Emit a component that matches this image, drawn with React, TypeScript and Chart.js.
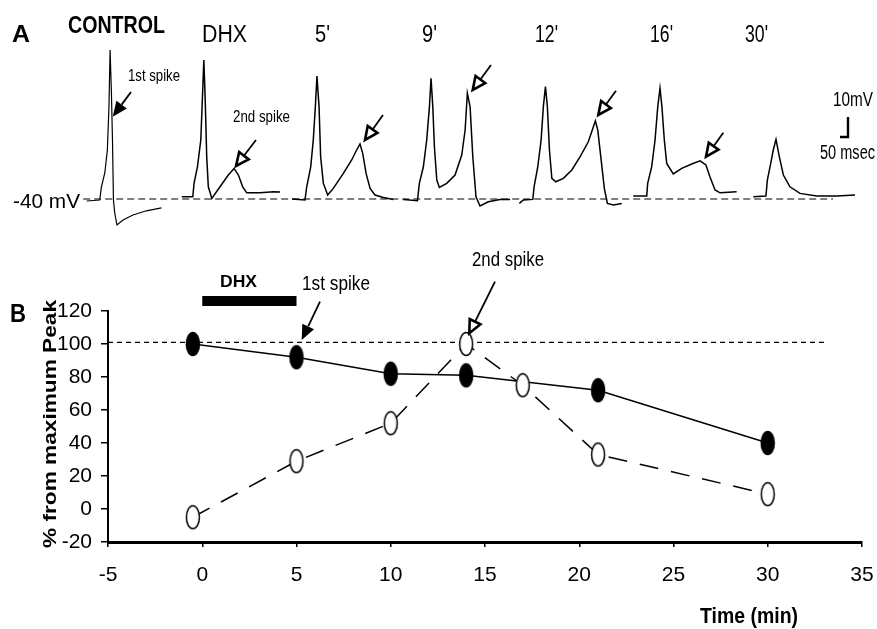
import React, { useEffect, useRef } from "react";
import { Chart, registerables } from "chart.js";

Chart.register(...registerables);

// ---------- Panel B data ----------
const timeFirstSpike = [-0.5, 5, 10, 14, 21, 30];
const firstSpikePct = [100, 92, 82, 81, 72, 40];
const timeSecondSpike = [-0.5, 5, 10, 14, 17, 21, 30];
const secondSpikePct = [-5, 29, 52, 100, 75, 33, 9];
const maxPeakRef = 101;
const refLineRange = [-5, 33];
const dhxOnMin = 0;
const dhxOffMin = 5;
const xTicks = [-5, 0, 5, 10, 15, 20, 25, 30, 35];
const yTicks = [-20, 0, 20, 40, 60, 80, 100, 120];

// ---------- Panel A traces (ms from sweep start, mV) ----------
const sweepLabels = ["CONTROL", "DHX", "5'", "9'", "12'", "16'", "30'"];
const sweepStartMs = [542, 1136, 1825, 2521, 3246, 3958, 4708];
const controlT = [0, 81, 92, 113, 129, 139, 146, 154, 161, 167, 175, 189, 227, 289, 373, 467];
const controlV = [-41, -40.5, -33.9, -27, -15.5, 6.2, 34.5, 14.5, -10.5, -40.5, -47, -53, -50.5, -48, -45.9, -44.4];
const dhxT = [0, 69, 77, 98, 119, 131, 138, 146, 156, 166, 188, 239, 291, 327, 354, 381, 406, 489, 573, 614];
const dhxV = [-38.9, -38.9, -32, -23.9, -10.5, 14.5, 29.5, 11.2, -18.9, -33.9, -39.7, -33.9, -28, -24.7, -28, -33.9, -36.9, -36.9, -36.4, -36.5];
const min5T = [0, 81, 92, 117, 133, 146, 156, 169, 179, 196, 223, 258, 321, 373, 404, 425, 442, 463, 488, 519, 571, 633];
const min5V = [-40, -40.5, -33.9, -23.9, -10.5, 6.2, 21.5, 6.2, -18.9, -32.2, -38, -34.7, -27.2, -20.5, -15.5, -12.5, -17.2, -27.2, -34.7, -38, -39.2, -40.2];
const min9T = [0, 88, 100, 125, 146, 163, 173, 184, 194, 209, 225, 271, 323, 365, 386, 400, 417, 434, 454, 479, 531, 604, 667];
const min9V = [-40.2, -40.9, -32.2, -23.9, -10.5, 6.2, 20.4, 6.2, -13.9, -30.5, -34.2, -32.2, -28, -18, -5.5, 12.9, 6.2, -18.9, -38.9, -43.5, -41.4, -40.2, -40.2];
const min12T = [0, 25, 84, 92, 115, 136, 150, 163, 175, 188, 203, 228, 275, 328, 379, 431, 459, 475, 490, 509, 531, 550, 588, 640];
const min12V = [-42.2, -40.5, -40.2, -33.9, -23.9, -10.5, 6.2, 16.2, 6.2, -15.5, -29.7, -31.4, -29.7, -25.5, -18.9, -11.4, -4.7, -0.9, -5.5, -18.9, -34.7, -42.2, -43, -42.2];
const min16T = [0, 84, 90, 115, 136, 153, 167, 179, 194, 209, 250, 303, 365, 417, 454, 479, 511, 542, 646];
const min16V = [-38.5, -38.5, -32.2, -23.9, -10.5, 6.2, 15.4, 6.2, -10.5, -22.2, -27.5, -24.7, -22.5, -20.9, -23, -28.9, -35.5, -36.9, -36.4];
const min30T = [0, 79, 88, 109, 125, 142, 163, 188, 229, 292, 396, 521, 636];
const min30V = [-38.9, -38.5, -30.5, -22.2, -15.5, -10.2, -18.9, -28, -33.9, -37.2, -38.5, -38.5, -38];
const traceTimes = [controlT, dhxT, min5T, min9T, min12T, min16T, min30T];
const traceVolts = [controlV, dhxV, min5V, min9V, min12V, min16V, min30V];
const restingMv = -40;
const baselineRangeMs = [520, 5206];
const scaleBarMv = 10;
const scaleBarMs = 50;

const SANS = "'Liberation Sans', Arial, sans-serif";
const NARROW = "'Liberation Sans Narrow', 'Arial Narrow', 'Liberation Sans', Arial, sans-serif";
const B_TOP = 240;

function fitText(ctx: CanvasRenderingContext2D, text: string, x: number, y: number, font: string, width: number) {
  ctx.save();
  ctx.font = font;
  ctx.fillStyle = "#000";
  ctx.textBaseline = "alphabetic";
  ctx.textAlign = "left";
  const w = ctx.measureText(text).width;
  ctx.translate(x, y);
  ctx.scale(width / w, 1);
  ctx.fillText(text, 0, 0);
  ctx.restore();
}

function arrow(ctx: CanvasRenderingContext2D, x1: number, y1: number, x2: number, y2: number, filled: boolean) {
  const headLen = filled ? 15 : 13;
  const headW = filled ? 13 : 12;
  const ang = Math.atan2(y2 - y1, x2 - x1);
  const bx = x2 - headLen * Math.cos(ang);
  const by = y2 - headLen * Math.sin(ang);
  ctx.save();
  ctx.strokeStyle = "#000";
  ctx.fillStyle = "#000";
  ctx.lineWidth = 1.8;
  ctx.beginPath();
  ctx.moveTo(x1, y1);
  ctx.lineTo(bx, by);
  ctx.stroke();
  const px = (-Math.sin(ang) * headW) / 2;
  const py = (Math.cos(ang) * headW) / 2;
  ctx.beginPath();
  ctx.moveTo(x2, y2);
  ctx.lineTo(bx + px, by + py);
  ctx.lineTo(bx - px, by - py);
  ctx.closePath();
  if (filled) {
    ctx.fill();
  } else {
    ctx.fillStyle = "#fff";
    ctx.fill();
    ctx.lineWidth = 2.6;
    ctx.lineJoin = "miter";
    ctx.stroke();
  }
  ctx.restore();
}

function ellipseImg(filled: boolean) {
  const c = document.createElement("canvas");
  c.width = 18;
  c.height = 28;
  const g = c.getContext("2d")!;
  g.beginPath();
  g.ellipse(9, 14, 6.5, 11.6, 0, 0, Math.PI * 2);
  g.fillStyle = filled ? "#000" : "#fff";
  g.fill();
  g.lineWidth = 1.5;
  g.strokeStyle = "#000";
  g.stroke();
  return c;
}

export default function App() {
  const refA = useRef<HTMLCanvasElement | null>(null);
  const refB = useRef<HTMLCanvasElement | null>(null);

  useEffect(() => {
    if (!refA.current || !refB.current) return;

    // ---------- Panel A ----------
    const traceSets = traceTimes.map((ts, i) => ({
      label: sweepLabels[i],
      data: ts.map((t, j) => ({ x: sweepStartMs[i] + t, y: traceVolts[i][j] })),
      borderColor: "#000",
      borderWidth: i === 0 ? 1.2 : 1.5,
      pointRadius: 0,
      showLine: true,
      tension: 0,
    }));
    const annotA = {
      id: "annotA",
      afterDraw(chart: any) {
        const ctx = chart.ctx as CanvasRenderingContext2D;
        fitText(ctx, "A", 12, 42, `bold 24px ${SANS}`, 18);
        const lab = [
          [68, 33, 97, true],
          [202, 42, 45, false],
          [315, 42, 15, false],
          [422, 42, 15, false],
          [535, 42, 23, false],
          [650, 42, 23, false],
          [745, 42, 23, false],
        ];
        sweepLabels.forEach((s, i) => {
          const [x, y, w, bold] = lab[i] as any;
          fitText(ctx, s, x, y, `${bold ? "bold " : ""}23px ${SANS}`, w);
        });
        fitText(ctx, "1st spike", 128, 81, `16px ${SANS}`, 52);
        fitText(ctx, "2nd spike", 233, 122, `16px ${SANS}`, 57);
        fitText(ctx, "-40 mV", 13, 208, `21px ${SANS}`, 67);
        fitText(ctx, "10mV", 833, 106, `20px ${SANS}`, 40);
        fitText(ctx, "50 msec", 820, 159, `20px ${SANS}`, 55);
        // arrows
        arrow(ctx, 131, 92, 112.7, 116.7, true);
        arrow(ctx, 256, 140, 236, 166, false);
        arrow(ctx, 383, 115, 365, 140, false);
        arrow(ctx, 491, 65, 472.7, 90, false);
        arrow(ctx, 616, 90.7, 598.3, 115, false);
        arrow(ctx, 723.3, 132.7, 706, 156.7, false);
        // scale bar
        const xs = chart.scales.x;
        const ys = chart.scales.y;
        const dy = ys.getPixelForValue(0) - ys.getPixelForValue(scaleBarMv);
        const dx = xs.getPixelForValue(scaleBarMs) - xs.getPixelForValue(0);
        const cx = 848, cy = 137;
        ctx.save();
        ctx.strokeStyle = "#000";
        ctx.lineWidth = 2.4;
        ctx.beginPath();
        ctx.moveTo(cx, cy - dy);
        ctx.lineTo(cx, cy);
        ctx.lineTo(cx - dx, cy);
        ctx.stroke();
        ctx.restore();
      },
    };
    const chartA = new Chart(refA.current, {
      type: "scatter",
      data: {
        datasets: [
          {
            label: "baseline",
            data: baselineRangeMs.map((t) => ({ x: t, y: restingMv })),
            borderColor: "#000",
            borderWidth: 1.2,
            borderDash: [7, 4],
            pointRadius: 0,
            showLine: true,
          } as any,
          ...traceSets,
        ],
      },
      options: {
        animation: false,
        responsive: false,
        devicePixelRatio: 1,
        layout: { padding: 0 },
        plugins: { legend: { display: false }, tooltip: { enabled: false } },
        scales: {
          x: { type: "linear", display: false, min: 0, max: 5481.25 },
          y: { type: "linear", display: false, min: -60.5, max: 59.5 },
        },
      },
      plugins: [annotA],
    });

    // ---------- Panel B ----------
    const filledImg = ellipseImg(true);
    const openImg = ellipseImg(false);
    const annotB = {
      id: "annotB",
      afterDraw(chart: any) {
        const ctx = chart.ctx as CanvasRenderingContext2D;
        const o = B_TOP;
        const xs = chart.scales.x;
        fitText(ctx, "B", 10, 322 - o, `bold 26px ${SANS}`, 16);
        // DHX bar
        const x0 = xs.getPixelForValue(dhxOnMin);
        const x1 = xs.getPixelForValue(dhxOffMin);
        ctx.save();
        ctx.fillStyle = "#000";
        ctx.fillRect(x0, 296 - o, x1 - x0, 10);
        ctx.restore();
        fitText(ctx, "DHX", 220, 287 - o, `bold 16px ${SANS}`, 37);
        fitText(ctx, "1st spike", 302, 290 - o, `20px ${SANS}`, 68);
        fitText(ctx, "2nd spike", 472, 266 - o, `20px ${SANS}`, 72);
        fitText(ctx, "Time (min)", 700, 623 - o, `bold 22px ${SANS}`, 98);
        arrow(ctx, 320, 301.7 - o, 301.7, 340 - o, true);
        arrow(ctx, 495, 281.7 - o, 469.3, 333.3 - o, false);
        // y title
        ctx.save();
        ctx.translate(51, 424 - o);
        ctx.rotate(-Math.PI / 2);
        ctx.font = `bold 18px ${SANS}`;
        const t = "% from maximum Peak";
        const w = ctx.measureText(t).width;
        ctx.scale(248 / w, 1);
        ctx.textAlign = "center";
        ctx.textBaseline = "middle";
        ctx.fillStyle = "#000";
        ctx.fillText(t, 0, 0);
        ctx.restore();
      },
    };
    const chartB = new Chart(refB.current, {
      type: "scatter",
      data: {
        datasets: [
          {
            label: "2nd spike",
            data: timeSecondSpike.map((x, i) => ({ x, y: secondSpikePct[i] })),
            showLine: true,
            borderColor: "#000",
            borderWidth: 1.5,
            borderDash: [19, 13],
            pointStyle: openImg as any,
            pointRadius: 7,
            order: 0,
            clip: false,
          } as any,
          {
            label: "1st spike",
            data: timeFirstSpike.map((x, i) => ({ x, y: firstSpikePct[i] })),
            showLine: true,
            borderColor: "#000",
            borderWidth: 1.5,
            pointStyle: filledImg as any,
            pointRadius: 7,
            order: 1,
            clip: false,
          } as any,
          {
            label: "max",
            data: refLineRange.map((x) => ({ x, y: maxPeakRef })),
            showLine: true,
            borderColor: "#000",
            borderWidth: 1.1,
            borderDash: [5, 4],
            pointRadius: 0,
            order: 2,
          } as any,
        ],
      },
      options: {
        animation: false,
        responsive: false,
        devicePixelRatio: 1,
        layout: { padding: { top: 71, right: 15, left: 0, bottom: 0 } },
        plugins: { legend: { display: false }, tooltip: { enabled: false } },
        scales: {
          x: {
            type: "linear",
            min: -5,
            max: 35,
            afterBuildTicks: (s: any) => {
              s.ticks = xTicks.map((v) => ({ value: v }));
            },
            afterFit: (s: any) => {
              s.height = 87;
              s.paddingLeft = 0;
              s.paddingRight = 0;
            },
            ticks: { color: "#000", font: { family: NARROW, size: 21 }, padding: 16, maxRotation: 0, autoSkip: false },
            grid: { drawOnChartArea: false, drawTicks: true, tickLength: 5, color: "#000", lineWidth: 1.5 },
            border: { display: true, color: "#000", width: 3 },
          },
          y: {
            type: "linear",
            min: -20,
            max: 120,
            afterBuildTicks: (s: any) => {
              s.ticks = yTicks.map((v) => ({ value: v }));
            },
            afterFit: (s: any) => {
              s.width = 108;
            },
            ticks: { color: "#000", font: { family: NARROW, size: 21 }, padding: 9, autoSkip: false },
            grid: { drawOnChartArea: false, drawTicks: true, tickLength: 7, color: "#000", lineWidth: 1.5 },
            border: { display: true, color: "#000", width: 2 },
          },
        },
      },
      plugins: [annotB],
    });

    return () => {
      chartA.destroy();
      chartB.destroy();
    };
  }, []);

  return (
    <div style={{ position: "fixed", left: 0, top: 0, width: 877, height: 629, background: "#fff" }}>
      <canvas ref={refA} width={877} height={240} style={{ position: "absolute", left: 0, top: 0, width: 877, height: 240 }} />
      <canvas ref={refB} width={877} height={389} style={{ position: "absolute", left: 0, top: B_TOP, width: 877, height: 389 }} />
    </div>
  );
}
